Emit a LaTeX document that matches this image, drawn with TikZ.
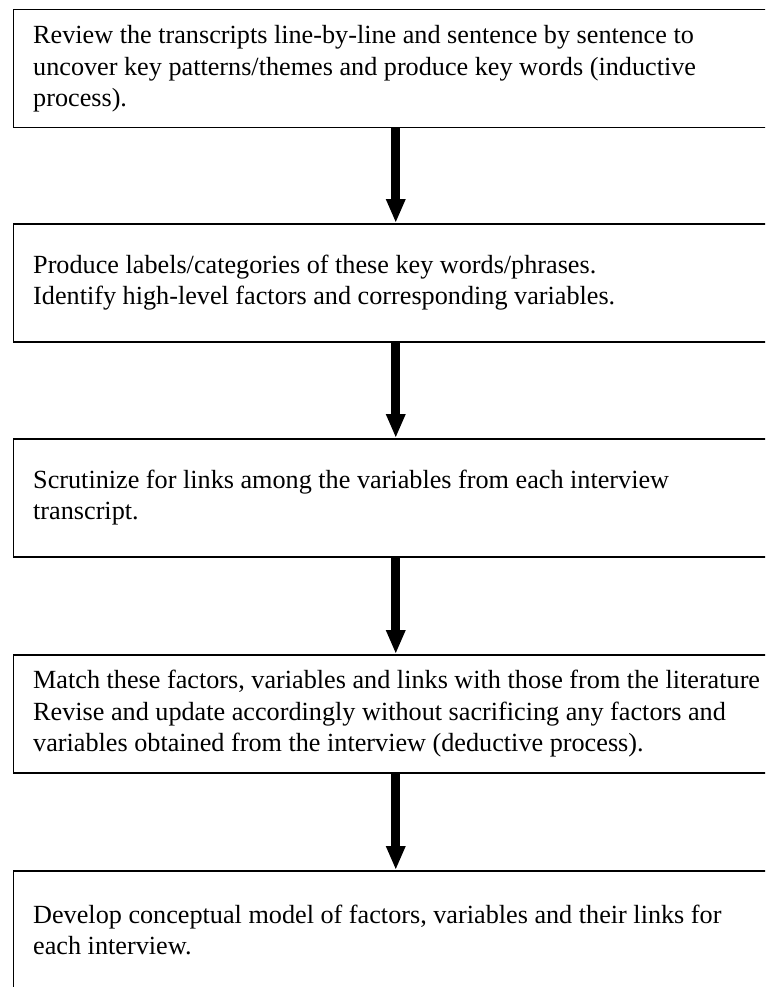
\documentclass[tikz,border=0pt]{standalone}
\usepackage{fontspec}
\setmainfont{Liberation Serif}
\usetikzlibrary{arrows.meta}
\begin{document}
\begin{tikzpicture}[x=1pt,y=-1pt,
  stepbox/.style={draw, line width=1.5pt, rectangle, minimum width=765pt,
    minimum height=118pt, anchor=north west, inner sep=0pt},
  steptext/.style={anchor=west, align=left, inner sep=0pt, xshift=20.5pt,
    font=\fontsize{26.2}{31.2}\selectfont},
  flow/.style={line width=9pt, -{Triangle[width=18pt,length=24pt]}}]
\useasboundingbox (0,0) rectangle (765,987);
\clip (0,0) rectangle (765,987);

% process boxes
\node[stepbox] (b1) at (12.5,9) {};
\node[stepbox] (b2) at (12.5,223) {};
\node[stepbox] (b3) at (12.5,438) {};
\node[stepbox] (b4) at (12.5,654) {};
\node[stepbox] (b5) at (12.5,870) {};

% step descriptions
\node[steptext] (t1) at (b1.west) {Review the transcripts line-by-line and sentence by sentence to\\
uncover key patterns/themes and produce key words (inductive\\
process).};
\node[steptext] (t2) at (b2.west) {Produce labels/categories of these key words/phrases.\\
Identify high-level factors and corresponding variables.};
\node[steptext] (t3) at (b3.west) {Scrutinize for links among the variables from each interview\\
transcript.};
\node[steptext] (t4) at (b4.west) {Match these factors, variables and links with those from the literature\\
Revise and update accordingly without sacrificing any factors and\\
variables obtained from the interview (deductive process).};
\node[steptext] (t5) at (b5.west) {Develop conceptual model of factors, variables and their links for\\
each interview.};

% flow arrows
\draw[flow] (b1.south) -- (b2.north);
\draw[flow] (b2.south) -- (b3.north);
\draw[flow] (b3.south) -- (b4.north);
\draw[flow] (b4.south) -- (b5.north);
\end{tikzpicture}
\end{document}
